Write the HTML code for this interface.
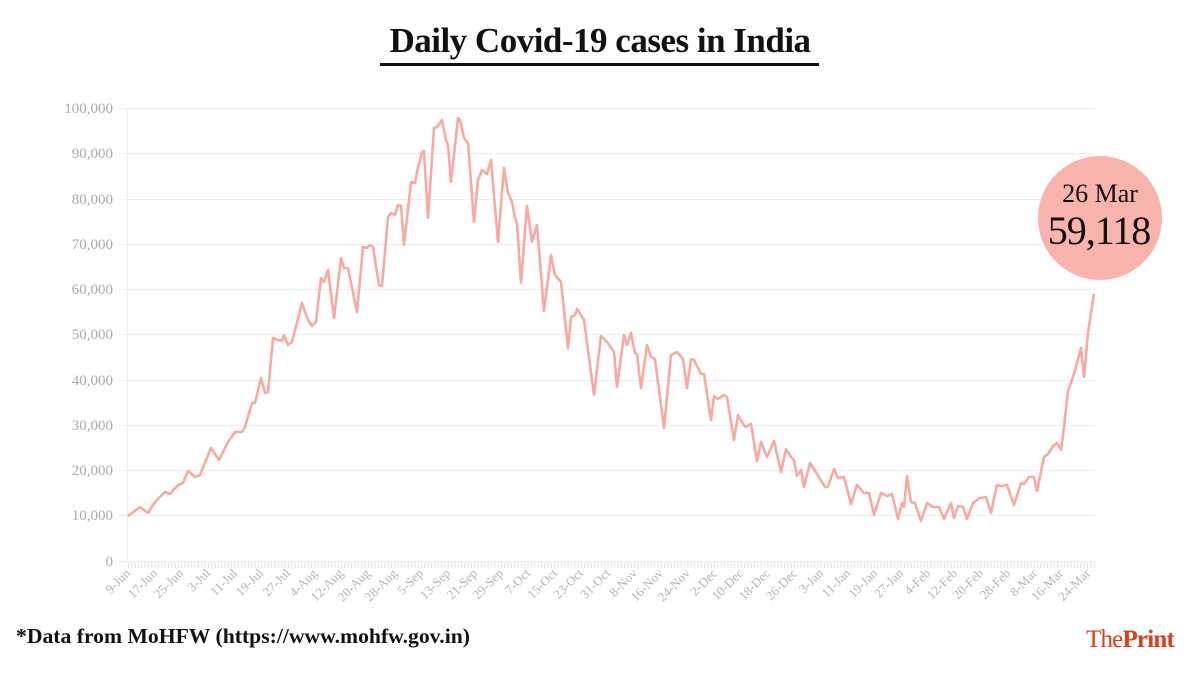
<!DOCTYPE html>
<html><head><meta charset="utf-8"><style>
html,body{margin:0;padding:0;background:#fff;}
body{width:1200px;height:675px;overflow:hidden;}
</style></head><body>
<svg width="1200" height="675" xmlns="http://www.w3.org/2000/svg" font-family="'Liberation Serif', serif">
<text x="600" y="52" text-anchor="middle" font-size="35" font-weight="bold" fill="#111" letter-spacing="-0.5">Daily Covid-19 cases in India</text>
<rect x="380" y="63" width="439" height="3" fill="#111"/>
<g stroke="#eeeeee" stroke-width="1">
<line x1="118" y1="108.5" x2="1095" y2="108.5"/>
<line x1="118" y1="153.5" x2="1095" y2="153.5"/>
<line x1="118" y1="199.5" x2="1095" y2="199.5"/>
<line x1="118" y1="244.5" x2="1095" y2="244.5"/>
<line x1="118" y1="289.5" x2="1095" y2="289.5"/>
<line x1="118" y1="334.5" x2="1095" y2="334.5"/>
<line x1="118" y1="380.5" x2="1095" y2="380.5"/>
<line x1="118" y1="425.5" x2="1095" y2="425.5"/>
<line x1="118" y1="470.5" x2="1095" y2="470.5"/>
<line x1="118" y1="515.5" x2="1095" y2="515.5"/>
<line x1="118" y1="561.5" x2="1095" y2="561.5"/>
<line x1="127.5" y1="108" x2="127.5" y2="562"/>
</g>
<line x1="128" y1="565" x2="1095" y2="565" stroke="#e2e2e2" stroke-width="6" stroke-dasharray="1 2.33"/>
<g font-size="15" fill="#aaa" text-anchor="end">
<text x="113" y="113">100,000</text><text x="113" y="158">90,000</text><text x="113" y="204">80,000</text>
<text x="113" y="249">70,000</text><text x="113" y="294">60,000</text><text x="113" y="339">50,000</text>
<text x="113" y="385">40,000</text><text x="113" y="430">30,000</text><text x="113" y="475">20,000</text>
<text x="113" y="520">10,000</text><text x="113" y="566">0</text>
</g>
<polyline fill="none" stroke="#f8aaa2" stroke-width="2.6" stroke-linejoin="round" points="
128,516 140,507 148,513 155,502 165,492 170,494 178,485 183,483 188,471 195,477 200,475 211,448 219,460 228,442 235,432 242,432 245,427 252,403 255,403 261,378 265,393 268,392 273,338 278,340 282,341 284,335 288,345 292,342 302,303 308,320 312,326 316,322 321,278 324,282 328,270 334,318 341,258 344,268 348,268 357,312 363,247 367,248 370,245 373,247 379,285 382,286 388,217 391,213 395,215 398,205 401,206 404,245 411,182 415,183 417,172 422,152 424,151 428,218 434,128 437,127 442,120 446,140 448,145 451,182 458,118 460,120 464,138 468,143 474,222 478,180 482,170 487,174 491,160 498,242 504,168 508,193 512,202 515,218 517,223 521,283 527,206 532,242 537,225 544,311 551,255 555,275 561,282 568,348 571,317 575,315 577,309 584,320 594,395 601,336 607,342 614,352 617,387 624,335 627,345 631,333 635,353 637,354 641,388 647,345 651,357 655,359 664,428 671,355 677,352 683,359 687,388 691,359 694,360 701,374 704,374 711,420 714,396 718,399 724,395 727,397 734,440 738,415 745,427 751,424 757,461 761,442 767,457 774,441 781,472 786,449 791,457 794,460 797,476 801,470 804,487 810,463 817,474 825,487 828,487 834,469 838,478 844,477 851,504 857,485 864,493 869,493 874,515 881,493 887,496 892,494 898,519 902,503 904,507 907,476 911,502 915,503 921,521 927,503 933,507 939,507 944,519 951,503 954,518 958,506 963,507 967,519 973,503 980,498 986,497 991,513 997,485 1002,486 1007,485 1014,505 1021,483 1024,484 1029,477 1034,477 1037,491 1044,457 1048,454 1053,446 1057,443 1061,450 1064,427 1068,391 1073,377 1077,363 1081,348 1084,377 1088,333 1094,294"/>
<g font-size="13" fill="#b5b5b5" text-anchor="end">
<text transform="translate(131,574) rotate(-45)">9-Jun</text>
<text transform="translate(158,574) rotate(-45)">17-Jun</text>
<text transform="translate(184,574) rotate(-45)">25-Jun</text>
<text transform="translate(211,574) rotate(-45)">3-Jul</text>
<text transform="translate(238,574) rotate(-45)">11-Jul</text>
<text transform="translate(264,574) rotate(-45)">19-Jul</text>
<text transform="translate(291,574) rotate(-45)">27-Jul</text>
<text transform="translate(318,574) rotate(-45)">4-Aug</text>
<text transform="translate(344,574) rotate(-45)">12-Aug</text>
<text transform="translate(371,574) rotate(-45)">20-Aug</text>
<text transform="translate(398,574) rotate(-45)">28-Aug</text>
<text transform="translate(424,574) rotate(-45)">5-Sep</text>
<text transform="translate(451,574) rotate(-45)">13-Sep</text>
<text transform="translate(478,574) rotate(-45)">21-Sep</text>
<text transform="translate(504,574) rotate(-45)">29-Sep</text>
<text transform="translate(531,574) rotate(-45)">7-Oct</text>
<text transform="translate(558,574) rotate(-45)">15-Oct</text>
<text transform="translate(584,574) rotate(-45)">23-Oct</text>
<text transform="translate(611,574) rotate(-45)">31-Oct</text>
<text transform="translate(638,574) rotate(-45)">8-Nov</text>
<text transform="translate(664,574) rotate(-45)">16-Nov</text>
<text transform="translate(691,574) rotate(-45)">24-Nov</text>
<text transform="translate(718,574) rotate(-45)">2-Dec</text>
<text transform="translate(744,574) rotate(-45)">10-Dec</text>
<text transform="translate(771,574) rotate(-45)">18-Dec</text>
<text transform="translate(798,574) rotate(-45)">26-Dec</text>
<text transform="translate(824,574) rotate(-45)">3-Jan</text>
<text transform="translate(851,574) rotate(-45)">11-Jan</text>
<text transform="translate(878,574) rotate(-45)">19-Jan</text>
<text transform="translate(904,574) rotate(-45)">27-Jan</text>
<text transform="translate(931,574) rotate(-45)">4-Feb</text>
<text transform="translate(958,574) rotate(-45)">12-Feb</text>
<text transform="translate(984,574) rotate(-45)">20-Feb</text>
<text transform="translate(1011,574) rotate(-45)">28-Feb</text>
<text transform="translate(1038,574) rotate(-45)">8-Mar</text>
<text transform="translate(1064,574) rotate(-45)">16-Mar</text>
<text transform="translate(1091,574) rotate(-45)">24-Mar</text>
</g>
<circle cx="1100" cy="218" r="62" fill="#f8b4ac"/>
<text x="1100" y="202" text-anchor="middle" font-size="26" fill="#111">26 Mar</text>
<text x="1099" y="244" text-anchor="middle" font-size="40" fill="#111" letter-spacing="-1">59,118</text>
<text x="16" y="643" font-size="21" font-weight="bold" fill="#111" textLength="454" lengthAdjust="spacingAndGlyphs">*Data from MoHFW (https://www.mohfw.gov.in)</text>
<text x="1174" y="647" text-anchor="end" font-size="25" fill="#d9401e" letter-spacing="-0.8">The<tspan font-weight="bold">Print</tspan></text>
</svg>
</body></html>
